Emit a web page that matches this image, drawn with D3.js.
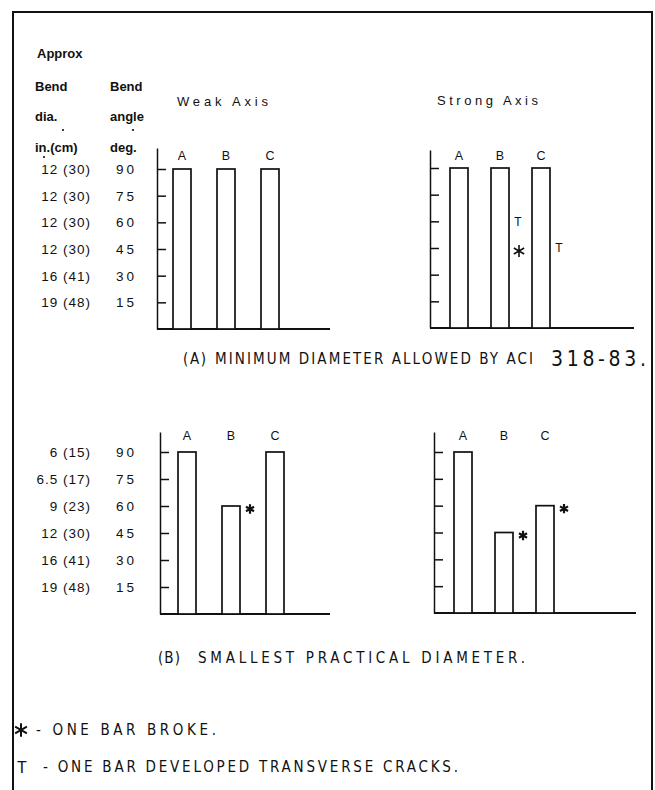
<!DOCTYPE html>
<html>
<head>
<meta charset="utf-8">
<script src="https://cdn.jsdelivr.net/npm/d3@7"></script>
<style>
  body { margin: 0; background: #fff; }
  text { fill: #111; }
</style>
</head>
<body>
<svg width="655" height="790"></svg>
<script>
'use strict';
// data
const categories = ['A', 'B', 'C'];
const angle_ticks = [90, 75, 60, 45, 30, 15];
const dia_labels_a = ['12 (30)', '12 (30)', '12 (30)', '12 (30)', '16 (41)', '19 (48)'];
const dia_labels_b = ['6 (15)', '6.5 (17)', '9 (23)', '12 (30)', '16 (41)', '19 (48)'];
const weak_a = [90, 90, 90];
const strong_a = [90, 90, 90];
const weak_b = [90, 60, 90];
const strong_b = [90, 45, 60];
// notes: [bar, angle, mark]
const notes_weak_a = [];
const notes_strong_a = [['B', 60, 'T'], ['B', 45, '*'], ['C', 45, 'T']];
const notes_weak_b = [['B', 60, '*']];
const notes_strong_b = [['B', 45, '*'], ['C', 60, '*']];

const svg = d3.select('svg');
const sans = "'Liberation Sans', Arial, sans-serif";
const narrow = "'DejaVu Sans Condensed', 'DejaVu Sans', 'Liberation Sans', sans-serif";

// frame
const frame = svg.append('g').attr('stroke', '#111').attr('stroke-width', 2).attr('fill', 'none');
frame.append('path').attr('d', 'M13,790 V12 H652 V790');

// panel layout
const panels = [
  {values: weak_a, notes: notes_weak_a, ax: 157, top: 148, base: 329, y90: 169, x0: 182, x1: 270, end: 330, lab_y: 160, star: 100},
  {values: strong_a, notes: notes_strong_a, ax: 430, top: 150, base: 328, y90: 168, x0: 459, x1: 541, end: 634, lab_y: 160, star: 100},
  {values: weak_b, notes: notes_weak_b, ax: 160, top: 432, base: 614, y90: 452, x0: 187, x1: 275, end: 330, lab_y: 440, star: 60},
  {values: strong_b, notes: notes_strong_b, ax: 434, top: 432, base: 613, y90: 452, x0: 463, x1: 545, end: 636, lab_y: 440, star: 60}
];
const bar_w = 18;

panels.forEach(p => {
  const k = (p.base - p.y90) / 90;
  const y_scale = d3.scaleLinear()
    .domain([0, (p.base - p.top) / k])
    .range([p.base, p.top]);
  p.y = y_scale;
  const x_scale = d3.scalePoint().domain(categories).range([p.x0, p.x1]);
  const g = svg.append('g');

  // left axis with inward ticks
  const ax = g.append('g')
    .attr('transform', `translate(${p.ax},0)`)
    .call(d3.axisRight(y_scale).tickValues(angle_ticks).tickSize(9).tickSizeOuter(0).tickFormat(''));
  ax.selectAll('path, line').attr('stroke', '#111').attr('stroke-width', 1.5);

  // base line
  g.append('line')
    .attr('x1', p.ax).attr('x2', p.end)
    .attr('y1', p.base).attr('y2', p.base)
    .attr('stroke', '#111').attr('stroke-width', 1.8);

  // bars
  g.selectAll('rect').data(p.values).enter()
    .append('rect')
    .attr('x', (d, i) => x_scale(categories[i]) - bar_w / 2)
    .attr('y', d => y_scale(d))
    .attr('width', bar_w)
    .attr('height', d => p.base - y_scale(d))
    .attr('fill', '#fff')
    .attr('stroke', '#111')
    .attr('stroke-width', 1.7);

  // bar letters
  g.selectAll('text.cat').data(categories).enter()
    .append('text')
    .attr('x', d => x_scale(d))
    .attr('y', p.lab_y)
    .attr('text-anchor', 'middle')
    .attr('font-family', sans)
    .attr('font-size', 12.5)
    .text(d => d);

  // notes beside bars
  p.notes.forEach(([cat, ang, mark]) => {
    const nx = x_scale(cat) + bar_w / 2 + 10;
    if (mark === '*') {
      g.append('path')
        .attr('d', d3.symbol(d3.symbolAsterisk, p.star)())
        .attr('transform', `translate(${nx},${y_scale(ang) + 3})`)
        .attr('stroke', '#111')
        .attr('stroke-width', p.star > 80 ? 1.6 : 2.2)
        .attr('fill', 'none');
    } else {
      g.append('text')
        .attr('x', nx - 1)
        .attr('y', y_scale(ang))
        .attr('dy', '0.36em')
        .attr('text-anchor', 'middle')
        .attr('font-family', sans)
        .attr('font-size', 12)
        .text(mark);
    }
  });
});

// panel titles
svg.append('text').attr('x', 177).attr('y', 106)
  .attr('font-family', sans).attr('font-size', 13)
  .attr('textLength', 91).attr('lengthAdjust', 'spacing').text('Weak Axis');
svg.append('text').attr('x', 437).attr('y', 105)
  .attr('font-family', sans).attr('font-size', 13)
  .attr('textLength', 101).attr('lengthAdjust', 'spacing').text('Strong Axis');

// column headings
const head = svg.append('g').attr('font-family', sans).attr('font-size', 13).attr('font-weight', 'bold');
[['Approx', 37, 58], ['Bend', 35, 91], ['dia.', 35, 121], ['in.(cm)', 35, 152],
 ['Bend', 110, 91], ['angle', 110, 121], ['deg.', 110, 152]].forEach(([t, x, y]) => {
  head.append('text').attr('x', x).attr('y', y).text(t);
});
[[63, 130], [133, 130], [44, 157]].forEach(([x, y]) => {
  svg.append('circle').attr('cx', x).attr('cy', y).attr('r', 1.1).attr('fill', '#111');
});

// row labels, placed by the weak axis scales
[[panels[0], dia_labels_a], [panels[2], dia_labels_b]].forEach(([p, labels]) => {
  const rows = svg.append('g').attr('font-family', sans).attr('font-size', 13.5).attr('letter-spacing', 1);
  rows.selectAll('text.dia').data(labels).enter()
    .append('text')
    .attr('x', 91)
    .attr('y', (d, i) => p.y(angle_ticks[i]))
    .attr('dy', '0.36em')
    .attr('text-anchor', 'end')
    .text(d => d);
  rows.selectAll('text.ang').data(angle_ticks).enter()
    .append('text')
    .attr('x', 137)
    .attr('y', d => p.y(d))
    .attr('dy', '0.36em')
    .attr('text-anchor', 'end')
    .attr('letter-spacing', 3)
    .text(d => d);
});

// captions
const cap = svg.append('g').attr('font-family', narrow).attr('font-stretch', 'condensed').attr('font-size', 15);
cap.append('text').attr('x', 183).attr('y', 364).attr('textLength', 23).attr('lengthAdjust', 'spacing').text('(A)');
cap.append('text').attr('x', 215).attr('y', 364).attr('textLength', 318).attr('lengthAdjust', 'spacing')
  .text('MINIMUM DIAMETER ALLOWED BY ACI');
cap.append('text').attr('x', 551).attr('y', 366).attr('font-size', 21)
  .attr('textLength', 95).attr('lengthAdjust', 'spacing')
  .text('318-83.');
cap.append('text').attr('x', 158).attr('y', 663).attr('textLength', 22).attr('lengthAdjust', 'spacing').text('(B)');
cap.append('text').attr('x', 198).attr('y', 663).attr('textLength', 327).attr('lengthAdjust', 'spacing')
  .text('SMALLEST PRACTICAL DIAMETER.');

// legend
svg.append('path')
  .attr('d', d3.symbol(d3.symbolAsterisk, 130)())
  .attr('transform', 'translate(21,730)')
  .attr('stroke', '#111').attr('stroke-width', 2).attr('fill', 'none');
cap.append('text').attr('x', 36).attr('y', 735).attr('textLength', 180).attr('lengthAdjust', 'spacing')
  .text('- ONE BAR BROKE.');
cap.append('text').attr('x', 17).attr('y', 773).attr('font-family', sans).attr('font-stretch', 'normal').attr('font-size', 16).text('T');
cap.append('text').attr('x', 43).attr('y', 772).attr('textLength', 415).attr('lengthAdjust', 'spacing')
  .text('- ONE BAR DEVELOPED TRANSVERSE CRACKS.');
</script>
</body>
</html>
